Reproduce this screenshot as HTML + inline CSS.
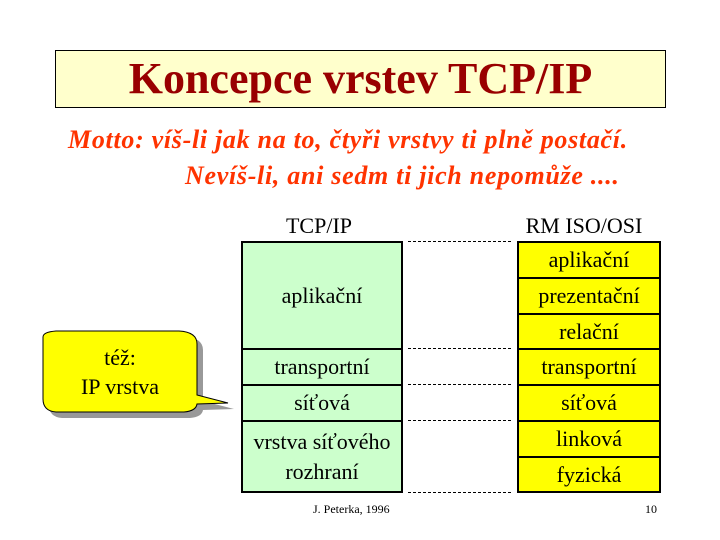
<!DOCTYPE html>
<html><head><meta charset="utf-8"><style>
body{margin:0;width:720px;height:540px;background:#fff;position:relative;overflow:hidden;font-family:"Liberation Serif",serif;}
.a{position:absolute;}
.title{left:55px;top:50px;width:609px;height:56px;background:#ffffcc;border:1px solid #000;text-align:center;font-weight:bold;font-size:44px;line-height:56px;color:#990000;}
.motto{color:#ff3300;font-style:italic;font-weight:bold;font-size:26px;white-space:nowrap;}
.cell{position:absolute;box-sizing:border-box;border:2px solid #000;text-align:center;font-size:22px;display:flex;align-items:center;justify-content:center;line-height:30px;}
.g{background:#ccffcc;left:241px;width:162px;}
.y{background:#ffff00;left:517px;width:144px;}
.d{position:absolute;left:408px;width:103px;border-top:1px dashed #000;}
</style></head><body>
<div class="a title">Koncepce vrstev TCP/IP</div>
<div class="a motto" style="left:68px;top:125px;letter-spacing:0.7px;">Motto: víš-li jak na to, čtyři vrstvy ti plně postačí.</div>
<div class="a motto" style="left:185px;top:161px;letter-spacing:0.7px;">Nevíš-li, ani sedm ti jich nepomůže ....</div>
<div class="a" style="left:238px;top:213px;width:162px;text-align:center;font-size:22px;">TCP/IP</div>
<div class="a" style="left:505px;top:213px;width:158px;text-align:center;font-size:22px;">RM ISO/OSI</div>
<div class="cell g" style="top:241px;height:109px;">aplikační</div>
<div class="cell g" style="top:348px;height:38px;">transportní</div>
<div class="cell g" style="top:384px;height:38px;">síťová</div>
<div class="cell g" style="top:420px;height:73px;">vrstva síťového<br>rozhraní</div>
<div class="cell y" style="top:241px;height:38px;">aplikační</div>
<div class="cell y" style="top:277px;height:38px;">prezentační</div>
<div class="cell y" style="top:313px;height:37px;">relační</div>
<div class="cell y" style="top:348px;height:38px;">transportní</div>
<div class="cell y" style="top:384px;height:38px;">síťová</div>
<div class="cell y" style="top:420px;height:38px;">linková</div>
<div class="cell y" style="top:456px;height:37px;">fyzická</div>
<div class="d" style="top:241px"></div>
<div class="d" style="top:348px"></div>
<div class="d" style="top:384px"></div>
<div class="d" style="top:420px"></div>
<div class="d" style="top:492px"></div>
<svg class="a" style="left:0;top:0" width="720" height="540">
<path d="M49,343 Q49,338 62,337 L185,337 Q203,338 203,350 L203,401 L234,409 L203,410 Q202,417 190,418 L62,418 Q49,417 49,405 Z" fill="#999"/>
<path d="M43,337 Q43,332 56,331 L179,331 Q197,332 197,344 L197,395 L228,403 L197,404 Q196,411 184,412 L56,412 Q43,411 43,399 Z" fill="#ffff00" stroke="#000" stroke-width="1"/>
</svg>
<div class="a" style="left:43px;top:343px;width:154px;text-align:center;font-size:22px;line-height:29px;">též:<br>IP vrstva</div>
<div class="a" style="left:313px;top:502px;font-size:12px;">J. Peterka, 1996</div>
<div class="a" style="left:645px;top:502px;font-size:12px;">10</div>
</body></html>
